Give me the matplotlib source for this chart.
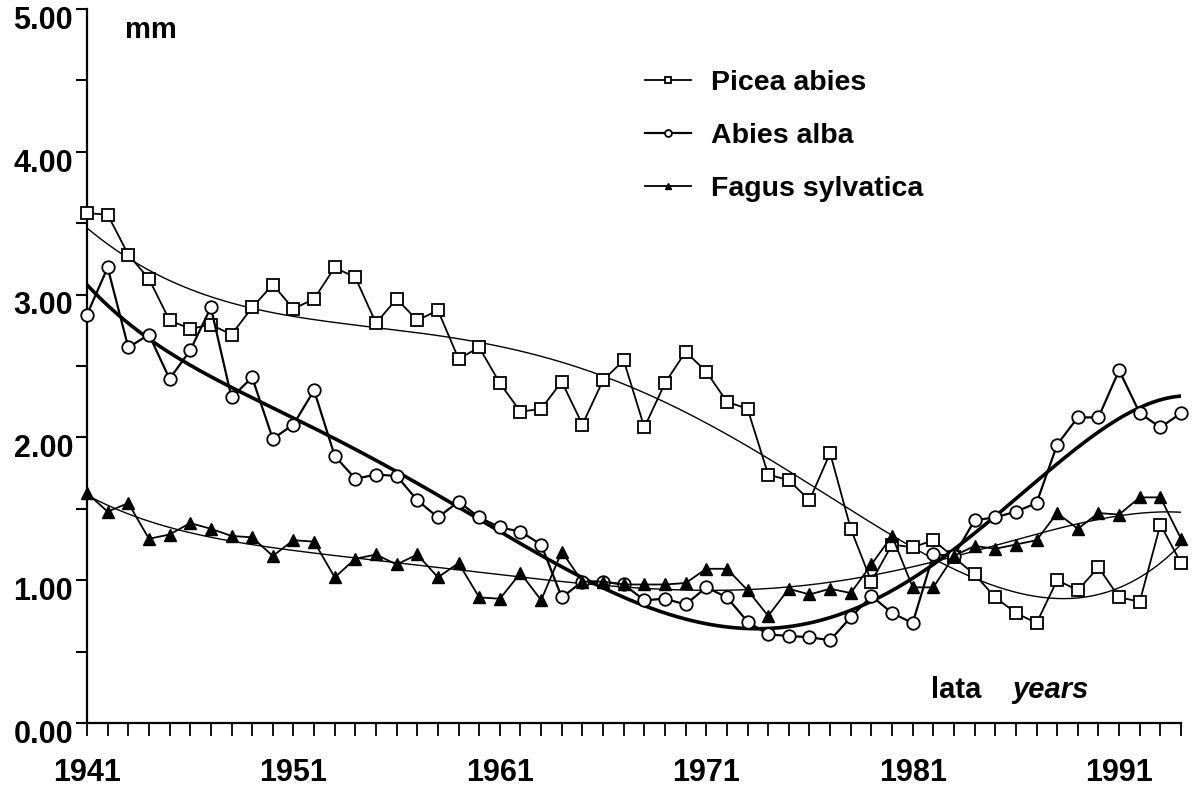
import numpy as np
import matplotlib
matplotlib.use("Agg")
import matplotlib.pyplot as plt
import matplotlib.transforms as mtransforms
from matplotlib.ticker import MultipleLocator, FixedLocator

plt.rcParams["font.family"] = ["Liberation Sans", "DejaVu Sans"]
plt.rcParams["font.weight"] = "bold"

years = np.arange(1941, 1995)

# Picea abies, mm
picea = [3.57, 3.56, 3.28, 3.11, 2.82, 2.76, 2.79, 2.72, 2.91, 3.07,
         2.90, 2.97, 3.19, 3.12, 2.80, 2.97, 2.82, 2.89, 2.55, 2.63,
         2.38, 2.18, 2.20, 2.39, 2.09, 2.40, 2.54, 2.07, 2.38, 2.60,
         2.46, 2.25, 2.20, 1.74, 1.70, 1.56, 1.89, 1.36, 0.99, 1.25,
         1.23, 1.28, 1.16, 1.04, 0.88, 0.77, 0.70, 1.00, 0.93, 1.09,
         0.88, 0.85, 1.39, 1.12]

# Abies alba, mm
abies = [2.86, 3.19, 2.63, 2.72, 2.41, 2.61, 2.91, 2.28, 2.42, 1.99,
         2.09, 2.33, 1.87, 1.71, 1.74, 1.73, 1.56, 1.44, 1.55, 1.44,
         1.37, 1.34, 1.25, 0.88, 0.99, 0.99, 0.97, 0.86, 0.87, 0.83,
         0.95, 0.88, 0.71, 0.62, 0.61, 0.60, 0.58, 0.74, 0.89, 0.77,
         0.70, 1.18, 1.17, 1.42, 1.44, 1.48, 1.54, 1.95, 2.14, 2.14,
         2.47, 2.17, 2.07, 2.17]

# Fagus sylvatica, mm
fagus = [1.61, 1.48, 1.54, 1.29, 1.32, 1.40, 1.36, 1.31, 1.30, 1.17,
         1.28, 1.27, 1.02, 1.15, 1.18, 1.11, 1.18, 1.02, 1.12, 0.88,
         0.87, 1.05, 0.86, 1.20, 0.99, 0.99, 0.97, 0.97, 0.97, 0.98,
         1.08, 1.08, 0.93, 0.75, 0.94, 0.90, 0.94, 0.91, 1.11, 1.31,
         0.95, 0.95, 1.17, 1.24, 1.22, 1.25, 1.28, 1.47, 1.36, 1.47,
         1.46, 1.58, 1.58, 1.29]

labels = ["Picea abies", "Abies alba", "Fagus sylvatica"]


def trend(y, deg):
    # polynomial trend line fitted to the yearly values
    t = (years - 1967.5) / 26.5
    c = np.polyfit(t, y, deg)
    tt = np.linspace(t[0], t[-1], 300)
    return tt * 26.5 + 1967.5, np.polyval(c, tt)


fig = plt.figure(figsize=(11.92, 7.96), dpi=100)
ax = fig.add_axes([0.073, 0.0917, 0.9178, 0.897])

xt, yt = trend(picea, 5)
ax.plot(xt, yt, color="black", lw=1.0, zorder=2)
xt, yt = trend(abies, 5)
ax.plot(xt, yt, color="black", lw=2.6, zorder=2)
xt, yt = trend(fagus, 5)
ax.plot(xt, yt, color="black", lw=1.0, zorder=2)

ax.plot(years, picea, color="black", lw=1.3, marker="s", ms=9,
        mfc="white", mec="black", mew=1.3, label=labels[0], clip_on=False, zorder=4)
ax.plot(years, abies, color="black", lw=1.6, marker="o", ms=9,
        mfc="white", mec="black", mew=1.3, label=labels[1], clip_on=False, zorder=4)
ax.plot(years, fagus, color="black", lw=1.3, marker="^", ms=8,
        mfc="black", mec="black", mew=1.0, label=labels[2], clip_on=False, zorder=4)

ax.set_xlim(1941, 1994)
ax.set_ylim(0, 5)

ax.spines["top"].set_visible(False)
ax.spines["right"].set_visible(False)
ax.spines["left"].set_linewidth(1.6)
ax.spines["bottom"].set_linewidth(1.6)

ax.xaxis.set_major_locator(FixedLocator([1941, 1951, 1961, 1971, 1981, 1991]))
ax.xaxis.set_minor_locator(MultipleLocator(1))
ax.yaxis.set_major_locator(MultipleLocator(1))
ax.yaxis.set_minor_locator(MultipleLocator(0.5))
ax.yaxis.set_major_formatter(plt.FuncFormatter(lambda v, p: f"{v:.2f}"))

ax.tick_params(axis="x", which="both", direction="out", length=9, width=1.3,
               labelsize=22, pad=16)
ax.tick_params(axis="y", which="both", direction="out", length=8, width=1.5,
               labelsize=22, pad=2)

# y labels sit a little below their ticks in the original
shift = mtransforms.ScaledTranslation(0, -6 / 72, fig.dpi_scale_trans)
for lab in ax.get_yticklabels():
    lab.set_transform(lab.get_transform() + shift)

ax.text(0.035, 0.97, "mm", transform=ax.transAxes, fontsize=21,
        ha="left", va="center")
ax.text(0.771, 0.046, "lata", transform=ax.transAxes, fontsize=21,
        ha="left", va="center")
ax.text(0.846, 0.046, "years", transform=ax.transAxes, fontsize=21,
        ha="left", va="center", style="italic")

leg = ax.legend(loc="upper left", bbox_to_anchor=(0.487, 0.95), frameon=False,
                fontsize=20.5, markerscale=0.55, handlelength=1.6,
                handletextpad=0.7, labelspacing=0.95)

fig.savefig("out.png", dpi=100)
